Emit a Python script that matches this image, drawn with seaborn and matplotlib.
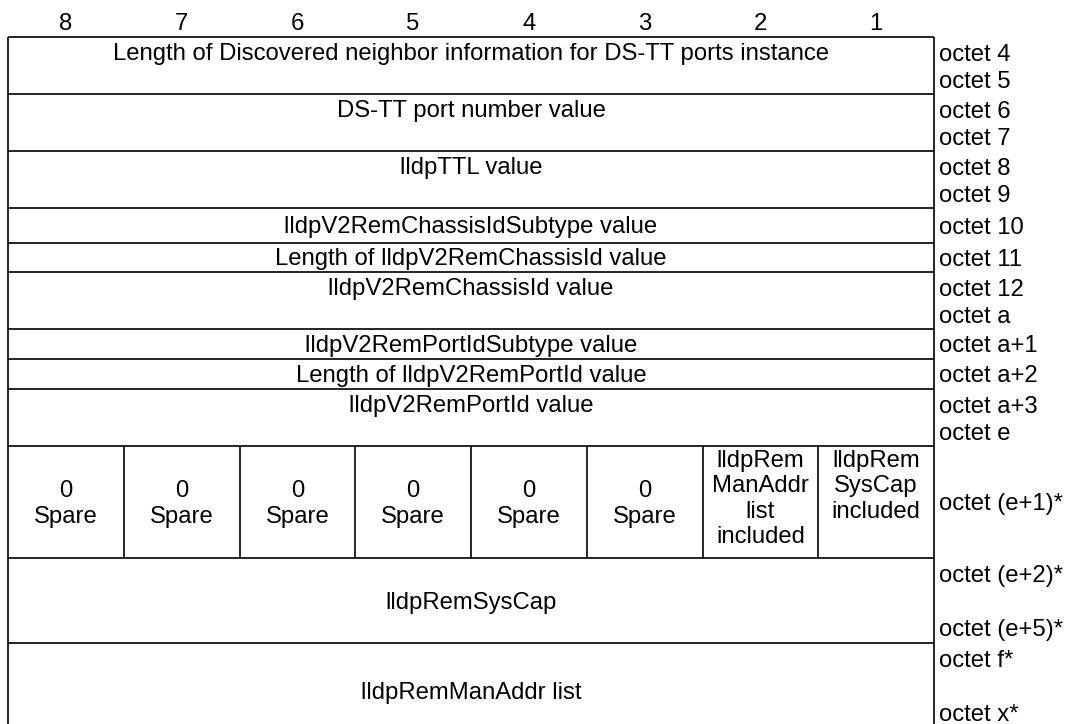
#!/usr/bin/env python3
"""Discovered neighbor information for DS-TT ports - octet layout diagram."""

import matplotlib
matplotlib.use("Agg")
import matplotlib.pyplot as plt
import seaborn as sns

# bit numbers across the top
bit_labels = ["8", "7", "6", "5", "4", "3", "2", "1"]

# one entry per field row
row_texts = [
    "Length of Discovered neighbor information for DS-TT ports instance",
    "DS-TT port number value",
    "lldpTTL value",
    "lldpV2RemChassisIdSubtype value",
    "Length of lldpV2RemChassisId value",
    "lldpV2RemChassisId value",
    "lldpV2RemPortIdSubtype value",
    "Length of lldpV2RemPortId value",
    "lldpV2RemPortId value",
    None,  # flag row, split in bits
    "lldpRemSysCap",
    "lldpRemManAddr list",
]
row_octets = [
    ["octet 4", "octet 5"],
    ["octet 6", "octet 7"],
    ["octet 8", "octet 9"],
    ["octet 10"],
    ["octet 11"],
    ["octet 12", "octet a"],
    ["octet a+1"],
    ["octet a+2"],
    ["octet a+3", "octet e"],
    ["octet (e+1)*"],
    ["octet (e+2)*", "octet (e+5)*"],
    ["octet f*", "octet x*"],
]
# last row runs past the bottom edge of the picture
row_heights = [57, 57, 57, 35, 29, 57, 30, 30, 57, 112, 85, 97]

flag_texts = ["0\nSpare"] * 6 + [
    "lldpRem\nManAddr\nlist\nincluded",
    "lldpRem\nSysCap\nincluded",
]


def main():
    sns.set_theme(style="white")
    plt.rcParams["font.family"] = ["Liberation Sans", "DejaVu Sans"]
    plt.rcParams["text.color"] = "black"

    fig = plt.figure(figsize=(10.65, 7.24), dpi=100)
    ax = fig.add_axes([0, 0, 1, 1])
    ax.set_xlim(0, 1065)
    ax.set_ylim(724, 0)
    ax.axis("off")

    fs = 17.2
    lw = 1.2
    dy = 2  # visual centring of text without descenders
    left, right, top = 8, 934, 37
    col_w = (right - left) / len(bit_labels)

    # header bit numbers
    for i, b in enumerate(bit_labels):
        ax.text(left + col_w * (i + 0.5), 22 + dy, b, ha="center", va="center", fontsize=fs)

    # row boundaries
    edges = [top]
    for h in row_heights:
        edges.append(edges[-1] + h)

    ax.vlines([left, right], top, edges[-1], colors="black", lw=lw)
    ax.hlines(edges, left, right, colors="black", lw=lw)

    cx = (left + right) / 2
    for i, (txt, octs) in enumerate(zip(row_texts, row_octets)):
        y0, y1 = edges[i], edges[i + 1]
        if len(octs) == 1:
            oy = [(y0 + y1) / 2]
        else:
            oy = [y0 + 16, min(y1 - 14, y0 + 70)]
        for o, y in zip(octs, oy):
            ax.text(right + 5, y + dy, o, ha="left", va="center", fontsize=fs)

        if txt is None:
            # bit-level cells
            ax.vlines([left + col_w * k for k in range(1, 8)], y0, y1,
                      colors="black", lw=lw)
            for k, ft in enumerate(flag_texts):
                x = left + col_w * (k + 0.5)
                if ft.startswith("0"):
                    ax.text(x, (y0 + y1) / 2 + dy, ft, ha="center", va="center",
                            fontsize=fs, linespacing=1.2)
                else:
                    ax.text(x, y0 + 2 + dy, ft, ha="center", va="top",
                            fontsize=fs, linespacing=1.2)
            continue

        if len(octs) == 1 or y1 - y0 >= 70:
            ty = (y0 + y1) / 2
        else:
            ty = oy[0] - 1
        ax.text(cx, ty + dy, txt, ha="center", va="center", fontsize=fs)

    fig.savefig("out.png", dpi=100, facecolor="white")


if __name__ == "__main__":
    main()
